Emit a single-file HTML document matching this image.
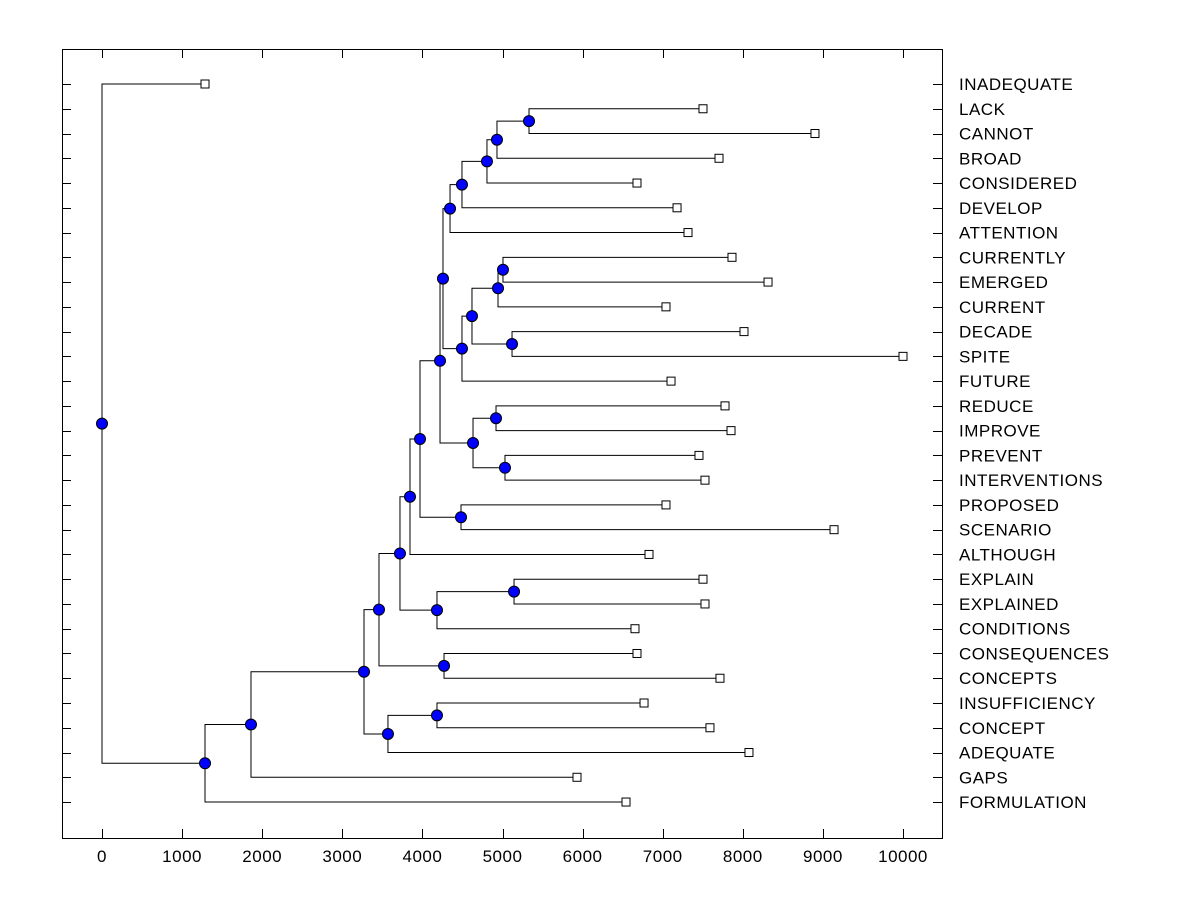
<!DOCTYPE html>
<html><head><meta charset="utf-8"><style>
html,body{margin:0;padding:0;background:#fff;}
svg text{font-family:"Liberation Sans",Arial,sans-serif;font-size:17px;letter-spacing:0.5px;fill:#000;}
</style></head><body>
<svg id="chart" width="1200" height="900" xmlns="http://www.w3.org/2000/svg"></svg>
<script>
const labels = ["INADEQUATE","LACK","CANNOT","BROAD","CONSIDERED","DEVELOP","ATTENTION","CURRENTLY","EMERGED","CURRENT","DECADE","SPITE","FUTURE","REDUCE","IMPROVE","PREVENT","INTERVENTIONS","PROPOSED","SCENARIO","ALTHOUGH","EXPLAIN","EXPLAINED","CONDITIONS","CONSEQUENCES","CONCEPTS","INSUFFICIENCY","CONCEPT","ADEQUATE","GAPS","FORMULATION"];
const leafValues = [1286,7503,8901,7703,6679,7179,7316,7865,8315,7041,8015,10000,7104,7778,7853,7453,7528,7041,9139,6829,7503,7528,6654,6679,7715,6767,7590,8077,5930,6542];
// merges: [childA, childB, height]; leaf i = "Li", merge k = "Mk"
const merges = [
 ["L1","L2",5331],["M0","L3",4931],["M1","L4",4806],["M2","L5",4494],["M3","L6",4345],
 ["L7","L8",5006],["M5","L9",4944],["L10","L11",5119],["M6","M7",4619],["M8","L12",4494],
 ["M4","M9",4257],["L13","L14",4919],["L15","L16",5031],["M11","M12",4632],["M10","M13",4220],
 ["L17","L18",4482],["M14","M15",3970],["M16","L19",3845],["L20","L21",5144],["M18","L22",4182],
 ["M17","M19",3720],["L23","L24",4270],["M20","M21",3458],["L25","L26",4182],["M23","L27",3570],
 ["M22","M24",3271],["M25","L28",1860],["M26","L29",1286],["L0","M27",0]
];
const xTicks = [0,1000,2000,3000,4000,5000,6000,7000,8000,9000,10000];

const svg = document.getElementById('chart');
const NS = 'http://www.w3.org/2000/svg';
const L=62,R=942,T=49,B=838;
const xs = v => 102 + v*0.0801;
const ys = i => 84 + i*24.76;
function mk(tag, attrs){const e=document.createElementNS(NS,tag);for(const k in attrs)e.setAttribute(k,attrs[k]);svg.appendChild(e);return e;}

const frame = mk('rect',{x:L+0.5,y:T+0.5,width:R-L,height:B-T,fill:'none',stroke:'#000','stroke-width':1});



xTicks.forEach(v=>{
  const x=Math.round(xs(v))+0.5;
  const t1=mk('line',{x1:x,x2:x,y1:B,y2:B-9,stroke:'#000'});
  
  
  const t2=mk('line',{x1:x,x2:x,y1:T,y2:T+9,stroke:'#000'});
  
  
  const tx=mk('text',{x:xs(v),y:862,'text-anchor':'middle'});
  tx.textContent=v;
  
  
});

labels.forEach((lab,i)=>{
  const y=Math.round(ys(i))+0.5;
  const a=mk('line',{x1:L,x2:L+9,y1:y,y2:y,stroke:'#000'});
  
  
  const b=mk('line',{x1:R-9,x2:R,y1:y,y2:y,stroke:'#000'});
  
  
  const t=mk('text',{x:959,y:ys(i)+6});
  t.textContent=lab;
  
  
});

const pos = {};
labels.forEach((l,i)=>{pos['L'+i]={x:leafValues[i],y:ys(i)};});
const nodes=[];
merges.forEach((m,k)=>{
  const a=pos[m[0]],b=pos[m[1]],h=m[2];
  const y=(a.y+b.y)/2;
  pos['M'+k]={x:h,y:y};
  const X=xs(h);
  const p=mk('path',{d:`M${xs(a.x)},${a.y}H${X}V${b.y}H${xs(b.x)}`,fill:'none',stroke:'#000','stroke-width':1});
  
  
  nodes.push([X,y]);
});
labels.forEach((l,i)=>{
  const r=mk('rect',{x:xs(leafValues[i])-4,y:ys(i)-4,width:8,height:8,fill:'#fff',stroke:'#000'});
  
  
});
nodes.forEach(([x,y])=>{
  const c=mk('circle',{cx:x,cy:y,r:5.5,fill:'#0000ff',stroke:'#000'});
  
  
});
</script>
</body></html>
